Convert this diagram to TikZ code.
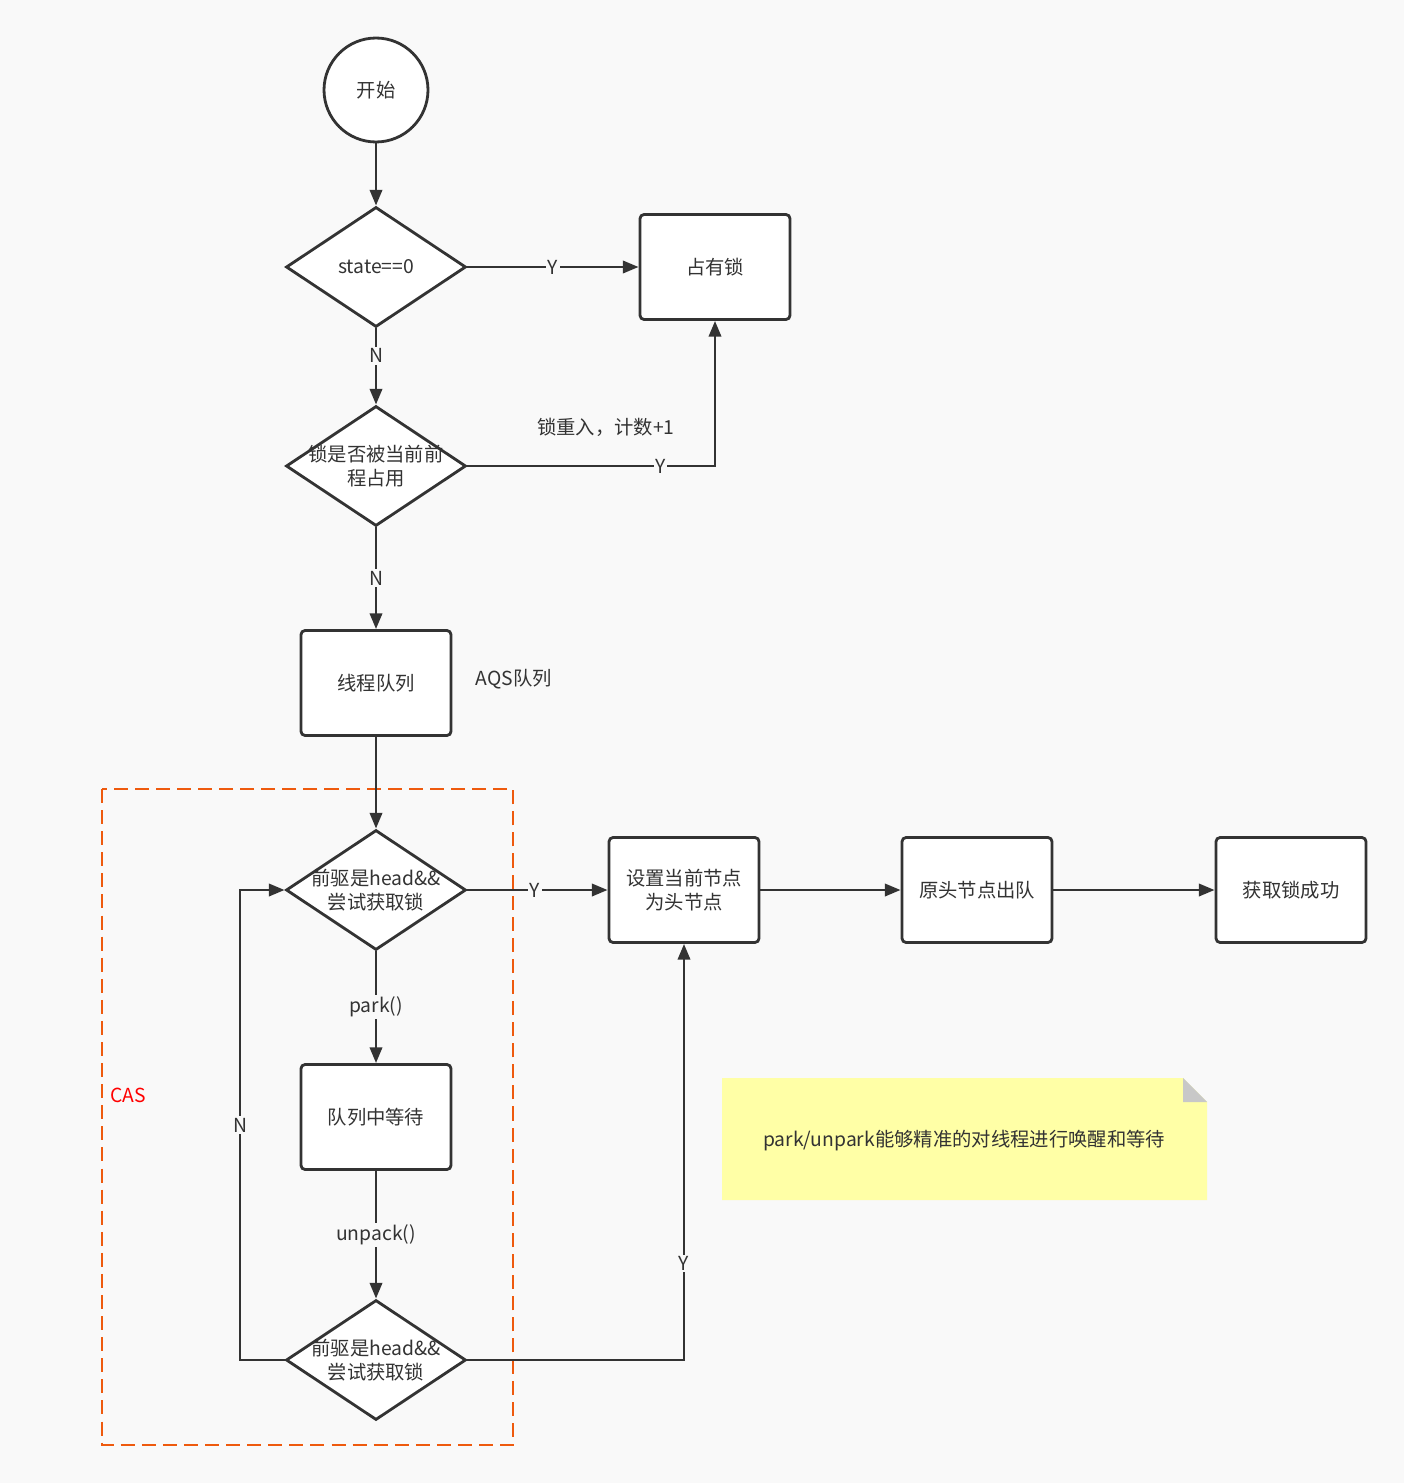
\documentclass[tikz,border=0pt]{standalone}
\usepackage{fontspec}
\setmainfont{Noto Sans CJK SC}
\usetikzlibrary{shapes.geometric, arrows.meta, positioning}

\definecolor{bgc}{HTML}{F9F9F9}
\definecolor{linec}{HTML}{333333}
\definecolor{casc}{HTML}{EE5A0E}
\definecolor{notec}{HTML}{FFFFA6}
\definecolor{foldc}{HTML}{C8C8C8}

\tikzset{
  txt/.style={font=\fontsize{11}{13.6}\selectfont, text=linec, align=center, inner sep=0pt},
  box/.style={draw=linec, fill=white, line width=1.6pt, rounded corners=2.3pt,
    minimum width=3cm, minimum height=2.1cm, txt},
  decision/.style={draw=linec, fill=white, line width=1.6pt, diamond,
    minimum width=3.6cm, minimum height=2.4cm, inner sep=0pt},
  lbl/.style={txt, fill=bgc, inner sep=1pt},
  arr/.style={draw=linec, line width=1.6pt, -{Triangle[length=9pt, width=7pt]}}
}

\begin{document}
\begin{tikzpicture}[x=0.02cm, y=-0.02cm]
        % Canvas
        \fill[bgc] (0,0) rectangle (1404,1483);
        \useasboundingbox (0,0) rectangle (1404,1483);
        % CAS region
        \draw[casc, line width=1.6pt, dash pattern=on 8pt off 4pt] (102,789) rectangle (513,1445);
        \node[txt, text=red] (cas) at (128,1095) {CAS};
        % Note
        \fill[notec] (722,1078) -- (1183,1078) -- (1207,1102) -- (1207,1200) -- (722,1200) -- cycle;
        \fill[foldc] (1183,1078) -- (1207,1102) -- (1183,1102) -- cycle;
        \node[txt] (note) at (964,1141) {park/unpark能够精准的对线程进行唤醒和等待};
        % Nodes
        \node[circle, draw=linec, fill=white, line width=1.6pt, minimum size=2.08cm, txt] (start) at (376,90) {开始};
        \node[decision] (d1) at (376,267) {};
        \node[txt] (d1t) at (d1) {state==0};
        \node[box] (own) at (715,267) {占有锁};
        \node[decision] (d2) at (376,466) {};
        \node[txt] (d2t) at (d2) {锁是否被当前前\\程占用};
        \node[txt] (reent) at (606,427) {锁重入，计数+1};
        \node[box] (queue) at (376,683) {线程队列};
        \node[txt] (aqs) at (514,679) {AQS队列};
        \node[decision] (d3) at (376,890) {};
        \node[txt] (d3t) at (d3) {前驱是head\&\&\\尝试获取锁};
        \node[box] (sethead) at (684,890) {设置当前节点\\为头节点};
        \node[box] (dequeue) at (977,890) {原头节点出队};
        \node[box] (done) at (1291,890) {获取锁成功};
        \node[box] (wait) at (376,1117) {队列中等待};
        \node[decision] (d4) at (376,1360) {};
        \node[txt] (d4t) at (d4) {前驱是head\&\&\\尝试获取锁};
        \coordinate (back) at (240,1360);
        % Connectors
        \draw[arr] (start) -- (d1);
        \draw[arr] (d1.east) -- node[lbl] {Y} (own.west);
        \draw[arr] (d1.south) -- node[lbl, pos=0.36] {N} (d2.north);
        \draw[arr] (d2.east) -| node[lbl, pos=0.39] {Y} (own.south);
        \draw[arr] (d2.south) -- node[lbl] {N} (queue.north);
        \draw[arr] (queue.south) -- (d3.north);
        \draw[arr] (d3.east) -- node[lbl, pos=0.48] {Y} (sethead.west);
        \draw[arr] (sethead) -- (dequeue);
        \draw[arr] (dequeue) -- (done);
        \draw[arr] (d3.south) -- node[lbl] {park()} (wait.north);
        \draw[arr] (wait.south) -- node[lbl] {unpack()} (d4.north);
        \draw[arr] (d4.west) -- (back) |- node[lbl, pos=0.25] {N} (d3.west);
        \draw[arr] (d4.east) -| node[lbl, pos=0.616] {Y} (sethead.south);
    \end{tikzpicture}
\end{document}
